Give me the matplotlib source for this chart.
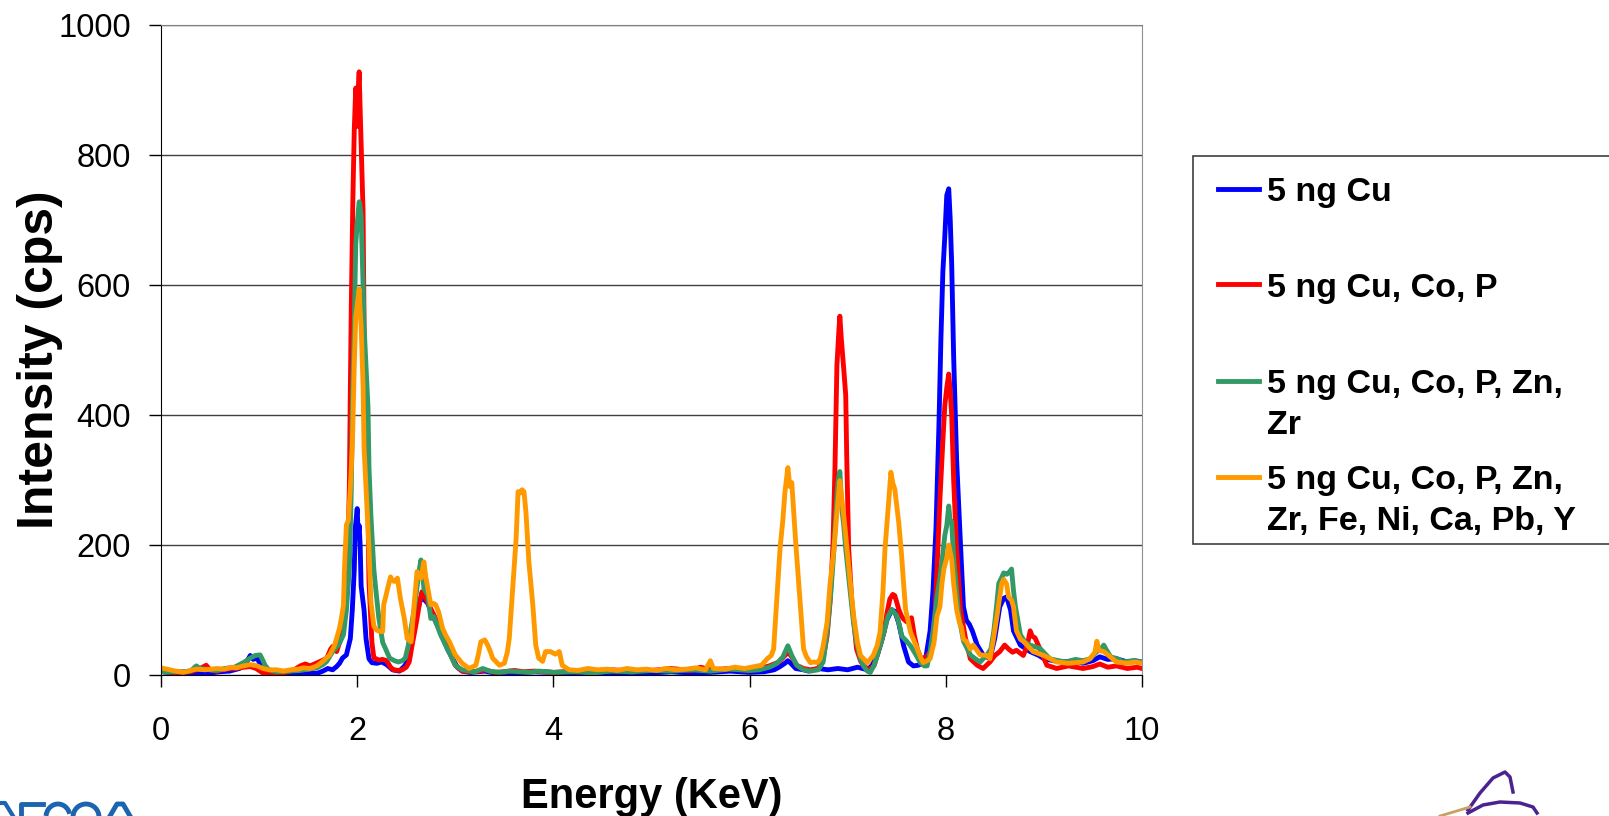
import numpy as np
import matplotlib
matplotlib.use('Agg')
import matplotlib.pyplot as plt
from matplotlib.lines import Line2D
from matplotlib.patches import Rectangle, Arc
from matplotlib.transforms import Affine2D

plt.rcParams['font.family'] = ['Liberation Sans', 'DejaVu Sans']

# ----- spectra: (energy keV, intensity cps) -----
cu = [(0.00, 6), (0.05, 4), (0.10, 3), (0.20, 2), (0.30, 3), (0.40, 2), (0.50, 3), (0.60, 5),
      (0.70, 6), (0.80, 10), (0.85, 16), (0.88, 22), (0.91, 30), (0.94, 24), (0.98, 26), (1.02, 14),
      (1.06, 5), (1.10, 3), (1.20, 2), (1.30, 3), (1.40, 2), (1.50, 2), (1.60, 3), (1.65, 6),
      (1.70, 10), (1.75, 8), (1.79, 13), (1.82, 18), (1.85, 26), (1.89, 31), (1.93, 56), (1.95, 100),
      (1.97, 162), (1.98, 225), (2.00, 256), (2.01, 216), (2.02, 230), (2.03, 200), (2.04, 137),
      (2.07, 100), (2.09, 56), (2.12, 25), (2.15, 19), (2.20, 18), (2.25, 20), (2.30, 16), (2.36, 8),
      (2.43, 6), (2.49, 15), (2.53, 35), (2.56, 56), (2.60, 90), (2.63, 108), (2.66, 123), (2.69, 115),
      (2.72, 110), (2.76, 95), (2.80, 82), (2.84, 70), (2.87, 62), (2.92, 40), (2.97, 26), (3.02, 12),
      (3.07, 6), (3.15, 4), (3.30, 6), (3.40, 3), (3.50, 4), (3.65, 3), (3.80, 5), (4.00, 4),
      (4.20, 3), (4.40, 5), (4.60, 3), (4.80, 4), (5.00, 3), (5.20, 5), (5.40, 3), (5.60, 4),
      (5.80, 6), (6.00, 4), (6.15, 5), (6.25, 8), (6.30, 12), (6.36, 18), (6.39, 22), (6.42, 18),
      (6.47, 10), (6.55, 8), (6.60, 6), (6.70, 10), (6.80, 8), (6.90, 10), (7.00, 8), (7.10, 12),
      (7.20, 8), (7.25, 15), (7.30, 30), (7.35, 55), (7.40, 85), (7.45, 100), (7.48, 98), (7.52, 80),
      (7.57, 45), (7.62, 20), (7.67, 14), (7.72, 15), (7.76, 18), (7.80, 30), (7.84, 68), (7.87, 131),
      (7.90, 226), (7.93, 384), (7.95, 516), (7.97, 620), (7.99, 675), (8.01, 738), (8.03, 748),
      (8.045, 701), (8.06, 632), (8.08, 490), (8.11, 332), (8.15, 200), (8.18, 105), (8.21, 84),
      (8.24, 78), (8.27, 68), (8.32, 46), (8.38, 31), (8.45, 25), (8.50, 57), (8.55, 105), (8.59, 118),
      (8.62, 120), (8.66, 100), (8.69, 68), (8.76, 46), (8.86, 36), (8.95, 30), (9.00, 25), (9.10, 22),
      (9.20, 20), (9.30, 22), (9.40, 18), (9.50, 22), (9.57, 28), (9.65, 24), (9.74, 25), (9.85, 20),
      (9.93, 22), (10.00, 20)]

cu_co_p = [(0.00, 8), (0.05, 5), (0.10, 4), (0.20, 4), (0.30, 5), (0.40, 10), (0.46, 15), (0.50, 8),
           (0.57, 6), (0.65, 9), (0.75, 10), (0.85, 12), (0.91, 13), (0.97, 10), (1.04, 3), (1.10, 4),
           (1.20, 3), (1.30, 5), (1.38, 10), (1.42, 14), (1.47, 17), (1.52, 14), (1.58, 18), (1.64, 22),
           (1.69, 26), (1.73, 40), (1.75, 44), (1.79, 36), (1.82, 50), (1.86, 97), (1.88, 130), (1.90, 163),
           (1.92, 288), (1.93, 437), (1.94, 569), (1.955, 725), (1.97, 838), (1.985, 903), (1.995, 880),
           (2.00, 844), (2.01, 900), (2.02, 928), (2.03, 870), (2.04, 819), (2.06, 712), (2.07, 537),
           (2.09, 381), (2.11, 256), (2.12, 144), (2.15, 50), (2.17, 26), (2.19, 25), (2.22, 23),
           (2.26, 24), (2.30, 22), (2.34, 12), (2.37, 8), (2.42, 7), (2.46, 8), (2.50, 12), (2.53, 20),
           (2.56, 46), (2.59, 70), (2.61, 87), (2.64, 115), (2.66, 128), (2.68, 120), (2.70, 118),
           (2.73, 108), (2.77, 96), (2.80, 87), (2.84, 72), (2.87, 62), (2.91, 48), (2.94, 36), (2.97, 25),
           (3.00, 15), (3.07, 6), (3.15, 5), (3.25, 6), (3.30, 8), (3.40, 4), (3.50, 5), (3.60, 7),
           (3.70, 5), (3.80, 6), (3.90, 5), (4.00, 4), (4.20, 6), (4.40, 5), (4.60, 8), (4.80, 6),
           (5.00, 7), (5.20, 10), (5.40, 7), (5.50, 12), (5.60, 8), (5.80, 10), (6.00, 7), (6.10, 10),
           (6.20, 14), (6.30, 20), (6.36, 30), (6.39, 35), (6.43, 28), (6.48, 15), (6.55, 10), (6.62, 8),
           (6.70, 10), (6.75, 25), (6.79, 60), (6.82, 112), (6.85, 200), (6.87, 317), (6.89, 476),
           (6.91, 530), (6.92, 552), (6.935, 517), (6.96, 470), (6.98, 430), (6.99, 337), (7.01, 194),
           (7.04, 117), (7.07, 70), (7.09, 40), (7.13, 22), (7.16, 14), (7.20, 10), (7.23, 9), (7.27, 15),
           (7.30, 30), (7.34, 50), (7.37, 66), (7.40, 95), (7.43, 117), (7.46, 124), (7.48, 122),
           (7.50, 112), (7.52, 101), (7.55, 90), (7.57, 86), (7.60, 82), (7.65, 88), (7.68, 60), (7.71, 40),
           (7.74, 28), (7.77, 25), (7.80, 28), (7.84, 35), (7.86, 45), (7.89, 91), (7.92, 200), (7.94, 270),
           (7.97, 360), (7.99, 415), (8.01, 442), (8.03, 463), (8.045, 437), (8.06, 400), (8.08, 300),
           (8.11, 194), (8.15, 100), (8.20, 57), (8.25, 25), (8.32, 15), (8.38, 10), (8.45, 20), (8.50, 30),
           (8.55, 36), (8.60, 46), (8.64, 40), (8.68, 35), (8.72, 38), (8.79, 30), (8.83, 45), (8.86, 68),
           (8.88, 60), (8.91, 57), (8.96, 40), (9.03, 15), (9.13, 10), (9.25, 14), (9.40, 10), (9.50, 13),
           (9.57, 17), (9.65, 12), (9.74, 14), (9.85, 10), (9.95, 12), (10.00, 10)]

cu_co_p_zn_zr = [(0.00, 6), (0.05, 4), (0.10, 5), (0.20, 5), (0.30, 6), (0.36, 14), (0.40, 10), (0.50, 8),
                 (0.57, 7), (0.65, 10), (0.75, 12), (0.85, 20), (0.91, 26), (0.96, 30), (1.01, 31), (1.04, 22),
                 (1.06, 15), (1.10, 8), (1.18, 5), (1.30, 6), (1.42, 7), (1.50, 9), (1.59, 11), (1.65, 16),
                 (1.69, 21), (1.75, 36), (1.80, 45), (1.82, 49), (1.86, 62), (1.89, 100), (1.92, 162),
                 (1.94, 287), (1.95, 412), (1.97, 537), (1.985, 662), (2.00, 694), (2.02, 728), (2.03, 720),
                 (2.04, 706), (2.06, 600), (2.07, 537), (2.09, 475), (2.11, 412), (2.12, 319), (2.14, 244),
                 (2.17, 162), (2.19, 131), (2.22, 88), (2.26, 50), (2.29, 40), (2.33, 26), (2.38, 22),
                 (2.42, 20), (2.46, 22), (2.49, 26), (2.52, 45), (2.55, 72), (2.58, 100), (2.60, 123),
                 (2.63, 160), (2.65, 177), (2.67, 150), (2.68, 133), (2.72, 123), (2.75, 87), (2.78, 90),
                 (2.80, 82), (2.85, 62), (2.90, 46), (2.95, 31), (3.00, 15), (3.07, 8), (3.14, 6), (3.20, 5),
                 (3.28, 10), (3.35, 6), (3.45, 4), (3.55, 6), (3.65, 5), (3.75, 4), (3.85, 6), (3.95, 5),
                 (4.00, 4), (4.20, 5), (4.40, 4), (4.60, 6), (4.80, 5), (5.00, 7), (5.20, 6), (5.40, 8),
                 (5.60, 6), (5.80, 9), (6.00, 7), (6.10, 8), (6.20, 12), (6.28, 18), (6.34, 28), (6.39, 45),
                 (6.43, 30), (6.48, 15), (6.55, 8), (6.62, 6), (6.70, 8), (6.75, 20), (6.79, 66), (6.83, 130),
                 (6.86, 194), (6.88, 250), (6.90, 296), (6.92, 313), (6.94, 256), (6.96, 230), (6.98, 194),
                 (7.01, 150), (7.03, 122), (7.06, 80), (7.09, 50), (7.13, 25), (7.16, 14), (7.20, 6),
                 (7.23, 4), (7.27, 15), (7.30, 30), (7.34, 50), (7.37, 66), (7.41, 90), (7.45, 101),
                 (7.48, 95), (7.50, 91), (7.53, 75), (7.55, 60), (7.60, 52), (7.64, 45), (7.70, 30),
                 (7.74, 19), (7.78, 14), (7.81, 14), (7.84, 36), (7.87, 68), (7.91, 120), (7.94, 150),
                 (7.96, 173), (7.99, 215), (8.01, 230), (8.03, 260), (8.045, 236), (8.06, 236), (8.08, 180),
                 (8.10, 147), (8.13, 94), (8.18, 52), (8.25, 31), (8.30, 25), (8.35, 20), (8.42, 31),
                 (8.46, 40), (8.49, 68), (8.52, 110), (8.54, 141), (8.57, 150), (8.59, 157), (8.62, 155),
                 (8.64, 157), (8.67, 163), (8.69, 130), (8.71, 105), (8.76, 62), (8.81, 50), (8.86, 46),
                 (8.96, 41), (9.06, 25), (9.15, 22), (9.23, 20), (9.32, 24), (9.40, 22), (9.47, 25),
                 (9.54, 36), (9.58, 40), (9.61, 46), (9.64, 38), (9.68, 28), (9.75, 25), (9.81, 20),
                 (9.90, 22), (10.00, 20)]

cu_all = [(0.00, 11), (0.03, 10), (0.09, 8), (0.15, 6), (0.23, 4), (0.30, 7), (0.36, 9), (0.45, 8),
          (0.57, 10), (0.65, 9), (0.72, 12), (0.77, 11), (0.84, 14), (0.91, 16), (0.98, 14), (1.04, 10),
          (1.10, 8), (1.18, 8), (1.25, 6), (1.32, 8), (1.40, 9), (1.45, 11), (1.52, 10), (1.59, 14),
          (1.65, 21), (1.72, 31), (1.77, 46), (1.82, 72), (1.84, 88), (1.86, 108), (1.87, 162),
          (1.89, 231), (1.91, 238), (1.93, 288), (1.95, 350), (1.97, 475), (1.985, 550), (2.00, 569),
          (2.02, 594), (2.03, 560), (2.04, 537), (2.06, 444), (2.07, 350), (2.10, 256), (2.12, 194),
          (2.14, 112), (2.17, 75), (2.20, 69), (2.23, 67), (2.26, 67), (2.27, 108), (2.29, 120),
          (2.31, 133), (2.34, 151), (2.36, 145), (2.38, 144), (2.41, 149), (2.44, 118), (2.48, 87),
          (2.51, 56), (2.55, 51), (2.58, 108), (2.61, 159), (2.63, 150), (2.65, 149), (2.68, 174),
          (2.70, 150), (2.72, 133), (2.75, 108), (2.78, 110), (2.80, 108), (2.83, 97), (2.87, 72),
          (2.90, 62), (2.94, 51), (3.00, 31), (3.07, 18), (3.14, 10), (3.21, 15), (3.24, 35), (3.26, 51),
          (3.30, 54), (3.33, 46), (3.36, 35), (3.38, 26), (3.45, 15), (3.50, 18), (3.53, 35), (3.55, 56),
          (3.58, 123), (3.60, 170), (3.62, 210), (3.64, 282), (3.66, 280), (3.68, 285), (3.70, 282),
          (3.72, 251), (3.75, 174), (3.79, 108), (3.82, 46), (3.85, 26), (3.89, 21), (3.92, 36),
          (3.97, 36), (4.02, 32), (4.06, 36), (4.09, 15), (4.16, 8), (4.25, 7), (4.35, 10), (4.45, 8),
          (4.55, 9), (4.65, 7), (4.75, 10), (4.85, 8), (4.95, 9), (5.05, 7), (5.15, 10), (5.25, 8),
          (5.35, 9), (5.45, 11), (5.55, 8), (5.60, 22), (5.63, 10), (5.75, 9), (5.85, 12), (5.95, 10),
          (6.05, 13), (6.12, 15), (6.18, 25), (6.22, 30), (6.245, 40), (6.27, 100), (6.31, 194),
          (6.34, 240), (6.36, 281), (6.39, 319), (6.41, 290), (6.43, 296), (6.47, 204), (6.50, 142),
          (6.53, 80), (6.55, 40), (6.58, 28), (6.62, 19), (6.66, 20), (6.69, 19), (6.72, 25), (6.75, 45),
          (6.79, 81), (6.82, 140), (6.86, 194), (6.89, 250), (6.92, 299), (6.94, 270), (6.96, 245),
          (7.01, 168), (7.06, 91), (7.10, 50), (7.13, 30), (7.20, 19), (7.26, 30), (7.30, 45), (7.33, 66),
          (7.36, 130), (7.38, 194), (7.42, 271), (7.44, 312), (7.46, 295), (7.48, 286), (7.52, 235),
          (7.55, 183), (7.57, 140), (7.59, 101), (7.62, 80), (7.64, 66), (7.67, 55), (7.71, 40),
          (7.74, 28), (7.77, 19), (7.81, 22), (7.84, 25), (7.88, 50), (7.91, 91), (7.94, 105),
          (7.96, 140), (7.98, 163), (8.01, 180), (8.03, 200), (8.05, 185), (8.06, 178), (8.08, 141),
          (8.11, 101), (8.14, 80), (8.16, 73), (8.18, 55), (8.21, 52), (8.25, 40), (8.28, 46), (8.35, 31),
          (8.42, 30), (8.45, 25), (8.48, 50), (8.52, 89), (8.55, 120), (8.57, 141), (8.59, 147),
          (8.62, 140), (8.64, 120), (8.67, 115), (8.69, 105), (8.72, 68), (8.76, 55), (8.79, 52),
          (8.89, 36), (9.00, 30), (9.13, 20), (9.25, 18), (9.40, 20), (9.47, 25), (9.52, 35), (9.54, 52),
          (9.56, 38), (9.61, 36), (9.66, 30), (9.74, 20), (9.85, 18), (9.93, 20), (10.00, 18)]

series = [cu, cu_co_p, cu_co_p_zn_zr, cu_all]
labels = ['5 ng Cu', '5 ng Cu, Co, P', '5 ng Cu, Co, P, Zn,\nZr',
          '5 ng Cu, Co, P, Zn,\nZr, Fe, Ni, Ca, Pb, Y']
colors = ['#0000FF', '#FF0000', '#339966', '#FF9900']

x_ticks = [0, 2, 4, 6, 8, 10]
y_ticks = [0, 200, 400, 600, 800, 1000]

W, H = 1609, 816
fig = plt.figure(figsize=(W / 100., H / 100.), dpi=100)
# pixel coords measured from the top-left corner of the slide
pix = Affine2D().scale(1. / W, -1. / H).translate(0, 1) + fig.transFigure

ax = fig.add_axes([161. / W, 1 - 675. / H, 981. / W, 650. / H])

for data, col in zip(series, colors):
    e, c = np.array(data).T
    ax.plot(e, c, color=col, linewidth=3.5, solid_joinstyle='round')

ax.set_xlim(0, 10)
ax.set_ylim(0, 1000)
ax.set_xticks(x_ticks)
ax.set_yticks(y_ticks)
ax.yaxis.grid(True, color='#404040', linewidth=1)
ax.set_axisbelow(True)
ax.tick_params(axis='both', direction='out', length=8.6, width=1, labelsize=23.5, colors='black')
ax.tick_params(axis='x', pad=21)
ax.tick_params(axis='y', pad=13)
ax.spines['left'].set_color('black')
ax.spines['bottom'].set_color('black')
ax.spines['top'].set_color('#808080')
ax.spines['right'].set_color('#909090')

# axis titles
fig.text(53. / W, 1 - 360. / H, 'Intensity (cps)', rotation=90, fontsize=36, weight='bold',
         ha='center', va='baseline', rotation_mode='anchor')
fig.text(651.7 / W, 1 - 808. / H, 'Energy (KeV)', fontsize=30, weight='bold',
         ha='center', va='baseline')

# legend box, runs off the right edge like the original
fig.add_artist(Rectangle((1193, 156), 500, 388, transform=pix,
                         facecolor='white', edgecolor='#404040', linewidth=1.2))
handle_y = [189, 284, 381, 477]
for lab, col, hy in zip(labels, colors, handle_y):
    fig.add_artist(Line2D([1218, 1259], [hy, hy], color=col, linewidth=3.5, transform=pix))
    for k, line in enumerate(lab.split('\n')):
        fig.text(1267. / W, 1 - (hy + 12.5 + 40.5 * k) / H, line, fontsize=24.5, weight='bold',
                 ha='left', va='baseline')

# tops of the two logos that are cut off at the bottom of the slide
blue = '#1b64b0'
fig.add_artist(Line2D([0, 5, 13], [803, 803, 816], color=blue, linewidth=3, transform=pix))
fig.add_artist(Line2D([21, 21, 43], [816, 804, 804], color=blue, linewidth=3.5, transform=pix))
# y axis is flipped in pix, so the upper half of an arc is 180..360
fig.add_artist(Arc((58, 817), 24, 26, theta1=185, theta2=345, color=blue, linewidth=3.5, transform=pix))
fig.add_artist(Arc((86, 817), 26, 26, theta1=180, theta2=360, color=blue, linewidth=3.5, transform=pix))
fig.add_artist(Line2D([110, 117, 123, 130], [816, 804, 804, 816], color=blue, linewidth=3.5,
                      transform=pix))
purple = '#4b2391'
fig.add_artist(Line2D([1468, 1480, 1493, 1505, 1510, 1513], [810, 793, 778, 772, 777, 792],
                      color=purple, linewidth=2.5, transform=pix))
fig.add_artist(Line2D([1468, 1483, 1500, 1520, 1533, 1537], [813, 805, 802, 803, 807, 813],
                      color=purple, linewidth=2.5, transform=pix))
fig.add_artist(Line2D([1440, 1470], [816, 807], color='#c8a060', linewidth=2, transform=pix))

fig.savefig('out.png', dpi=100)
